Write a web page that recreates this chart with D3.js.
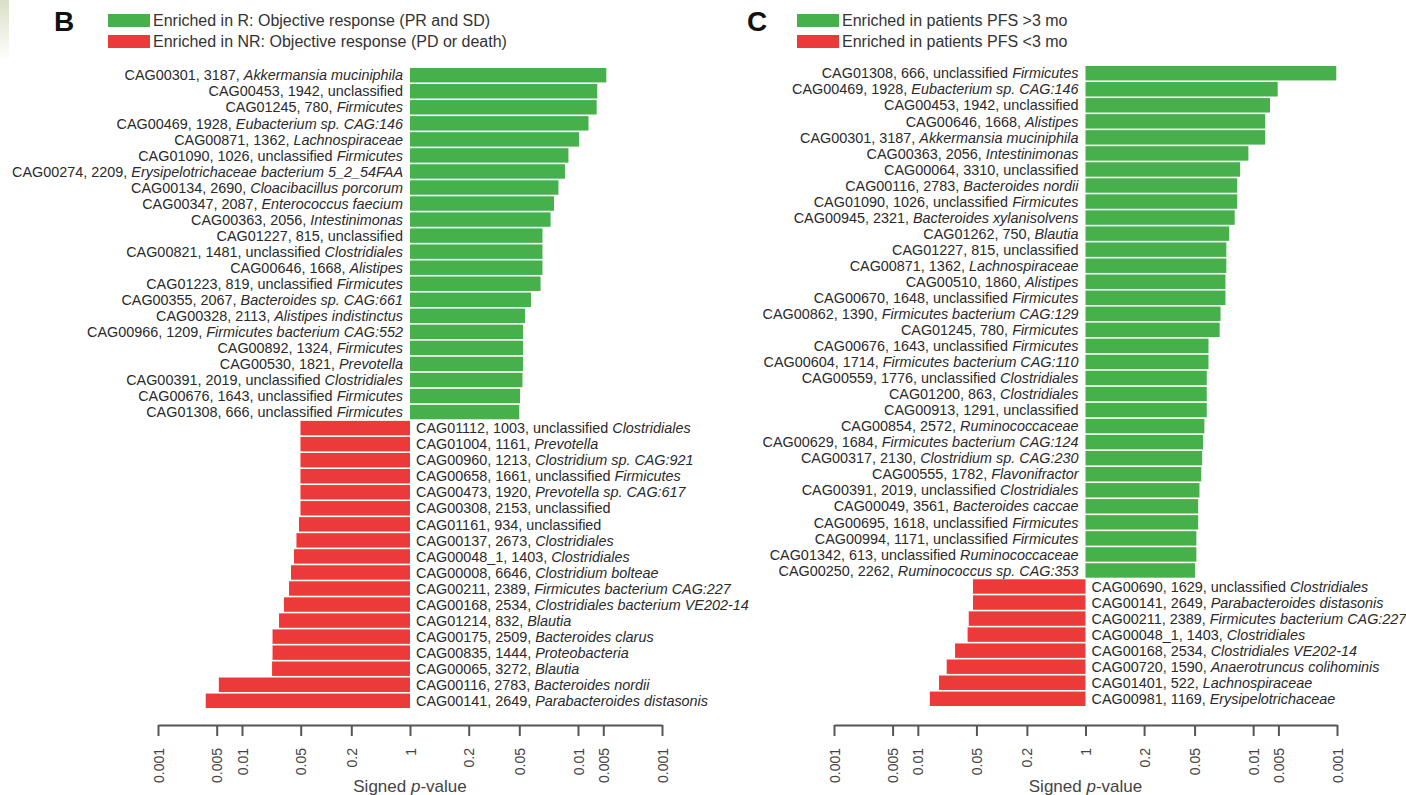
<!DOCTYPE html>
<html>
<head>
<meta charset="utf-8">
<script src="https://cdn.jsdelivr.net/npm/d3@7"></script>
<style>
  body { margin: 0; background: #fff; }
  svg { display: block; font-family: "Liberation Sans", Arial, Helvetica, sans-serif; }
</style>
</head>
<body>
<svg id="chart" width="1406" height="795"></svg>
<script>
// Panel B: objective response (R vs NR)
const bCag = ['CAG00301', 'CAG00453', 'CAG01245', 'CAG00469', 'CAG00871', 'CAG01090', 'CAG00274', 'CAG00134',
    'CAG00347', 'CAG00363', 'CAG01227', 'CAG00821', 'CAG00646', 'CAG01223', 'CAG00355', 'CAG00328', 'CAG00966',
    'CAG00892', 'CAG00530', 'CAG00391', 'CAG00676', 'CAG01308',
    'CAG01112', 'CAG01004', 'CAG00960', 'CAG00658', 'CAG00473', 'CAG00308', 'CAG01161', 'CAG00137', 'CAG00048_1',
    'CAG00008', 'CAG00211', 'CAG00168', 'CAG01214', 'CAG00175', 'CAG00835', 'CAG00065', 'CAG00116', 'CAG00141'];
const bGenes = [3187, 1942, 780, 1928, 1362, 1026, 2209, 2690, 2087, 2056, 815, 1481, 1668, 819, 2067, 2113, 1209,
    1324, 1821, 2019, 1643, 666,
    1003, 1161, 1213, 1661, 1920, 2153, 934, 2673, 1403, 6646, 2389, 2534, 832, 2509, 1444, 3272, 2783, 2649];
const bTaxa = ['Akkermansia muciniphila', 'unclassified', 'Firmicutes', 'Eubacterium sp. CAG:146', 'Lachnospiraceae',
    'unclassified Firmicutes', 'Erysipelotrichaceae bacterium 5_2_54FAA', 'Cloacibacillus porcorum',
    'Enterococcus faecium', 'Intestinimonas', 'unclassified', 'unclassified Clostridiales', 'Alistipes',
    'unclassified Firmicutes', 'Bacteroides sp. CAG:661', 'Alistipes indistinctus', 'Firmicutes bacterium CAG:552',
    'Firmicutes', 'Prevotella', 'unclassified Clostridiales', 'unclassified Firmicutes', 'unclassified Firmicutes',
    'unclassified Clostridiales', 'Prevotella', 'Clostridium sp. CAG:921', 'unclassified Firmicutes',
    'Prevotella sp. CAG:617', 'unclassified', 'unclassified', 'Clostridiales', 'Clostridiales', 'Clostridium bolteae',
    'Firmicutes bacterium CAG:227', 'Clostridiales bacterium VE202-14', 'Blautia', 'Bacteroides clarus',
    'Proteobacteria', 'Blautia', 'Bacteroides nordii', 'Parabacteroides distasonis'];
// signed p-values: positive = enriched in R, negative = enriched in NR
const bPvals = [0.0046, 0.0059, 0.0060, 0.0075, 0.0097, 0.0130, 0.0143, 0.0171, 0.0193, 0.0212, 0.0265, 0.0265,
    0.0265, 0.0279, 0.0363, 0.0428, 0.0452, 0.0452, 0.0452, 0.0458, 0.0490, 0.0500,
    -0.0497, -0.0497, -0.0497, -0.0497, -0.0497, -0.0497, -0.0477, -0.0445, -0.0416, -0.0383, -0.0363, -0.0316,
    -0.0276, -0.0231, -0.0231, -0.0228, -0.0053, -0.0037];
const bLegend = ['Enriched in R: Objective response (PR and SD)', 'Enriched in NR: Objective response (PD or death)'];

// Panel C: progression-free survival
const cCag = ['CAG01308', 'CAG00469', 'CAG00453', 'CAG00646', 'CAG00301', 'CAG00363', 'CAG00064', 'CAG00116',
    'CAG01090', 'CAG00945', 'CAG01262', 'CAG01227', 'CAG00871', 'CAG00510', 'CAG00670', 'CAG00862', 'CAG01245',
    'CAG00676', 'CAG00604', 'CAG00559', 'CAG01200', 'CAG00913', 'CAG00854', 'CAG00629', 'CAG00317', 'CAG00555',
    'CAG00391', 'CAG00049', 'CAG00695', 'CAG00994', 'CAG01342', 'CAG00250',
    'CAG00690', 'CAG00141', 'CAG00211', 'CAG00048_1', 'CAG00168', 'CAG00720', 'CAG01401', 'CAG00981'];
const cGenes = [666, 1928, 1942, 1668, 3187, 2056, 3310, 2783, 1026, 2321, 750, 815, 1362, 1860, 1648, 1390, 780,
    1643, 1714, 1776, 863, 1291, 2572, 1684, 2130, 1782, 2019, 3561, 1618, 1171, 613, 2262,
    1629, 2649, 2389, 1403, 2534, 1590, 522, 1169];
const cTaxa = ['unclassified Firmicutes', 'Eubacterium sp. CAG:146', 'unclassified', 'Alistipes',
    'Akkermansia muciniphila', 'Intestinimonas', 'unclassified', 'Bacteroides nordii', 'unclassified Firmicutes',
    'Bacteroides xylanisolvens', 'Blautia', 'unclassified', 'Lachnospiraceae', 'Alistipes', 'unclassified Firmicutes',
    'Firmicutes bacterium CAG:129', 'Firmicutes', 'unclassified Firmicutes', 'Firmicutes bacterium CAG:110',
    'unclassified Clostridiales', 'Clostridiales', 'unclassified', 'Ruminococcaceae', 'Firmicutes bacterium CAG:124',
    'Clostridium sp. CAG:230', 'Flavonifractor', 'unclassified Clostridiales', 'Bacteroides caccae',
    'unclassified Firmicutes', 'unclassified Firmicutes', 'unclassified Ruminococcaceae', 'Ruminococcus sp. CAG:353',
    'unclassified Clostridiales', 'Parabacteroides distasonis', 'Firmicutes bacterium CAG:227', 'Clostridiales',
    'Clostridiales VE202-14', 'Anaerotruncus colihominis', 'Lachnospiraceae', 'Erysipelotrichaceae'];
const cPvals = [0.00102, 0.0051, 0.0063, 0.0072, 0.0072, 0.0114, 0.0143, 0.0155, 0.0155, 0.0166, 0.0193, 0.0209,
    0.0209, 0.0214, 0.0214, 0.0245, 0.0251, 0.0341, 0.0341, 0.0358, 0.0358, 0.0358, 0.0382, 0.0396, 0.0406,
    0.0416, 0.0437, 0.0453, 0.0453, 0.0476, 0.0476, 0.0493,
    -0.0455, -0.0455, -0.0405, -0.0392, -0.0278, -0.0221, -0.0179, -0.0139];
const cLegend = ['Enriched in patients PFS >3 mo', 'Enriched in patients PFS <3 mo'];

// axis ticks (signed p)
const tickP = [-0.001, -0.005, -0.01, -0.05, -0.2, 1, 0.2, 0.05, 0.01, 0.005, 0.001];

const GREEN = '#46b04b';
const RED = '#ec3a3a';
const signedLog = p => (p < 0 ? -1 : 1) * -Math.log10(Math.abs(p));

const svg = d3.select('#chart');

// faint strip on the left edge of the scan
const grad = svg.append('defs').append('linearGradient')
    .attr('id', 'strip').attr('x1', 0).attr('y1', 0).attr('x2', 0).attr('y2', 1);
grad.append('stop').attr('offset', '0%').attr('stop-color', '#d9e0c6');
grad.append('stop').attr('offset', '100%').attr('stop-color', '#ffffff');
svg.append('rect').attr('x', 0).attr('y', 0).attr('width', 9).attr('height', 60).attr('fill', 'url(#strip)');

const panels = [
    { letter: 'B', cag: bCag, genes: bGenes, taxa: bTaxa, pvals: bPvals, legend: bLegend,
      xRange: [158, 662], yTop: 68, letterX: 54, legendX: 108 },
    { letter: 'C', cag: cCag, genes: cGenes, taxa: cTaxa, pvals: cPvals, legend: cLegend,
      xRange: [834, 1337], yTop: 66, letterX: 747, legendX: 797 },
];

function addTaxon(text, taxon) {
    // "unclassified" stays upright, taxonomic names are italic
    if (taxon === 'unclassified') {
        text.append('tspan').text(taxon);
    } else if (taxon.startsWith('unclassified ')) {
        text.append('tspan').text('unclassified ');
        text.append('tspan').attr('font-style', 'italic').text(taxon.slice(13));
    } else {
        text.append('tspan').attr('font-style', 'italic').text(taxon);
    }
}

panels.forEach(p => {
    const g = svg.append('g');
    const n = p.pvals.length;

    const x = d3.scaleLinear().domain([-3, 3]).range(p.xRange);
    const y = d3.scaleBand().domain(d3.range(n)).range([p.yTop, p.yTop + n * 16]).paddingInner(0.1);
    const x0 = x(0);

    // panel letter
    g.append('text')
        .attr('x', p.letterX).attr('y', 31)
        .attr('font-family', '"Liberation Sans Narrow", "Arial Narrow", "Liberation Sans", sans-serif')
        .attr('font-weight', 'bold').attr('font-size', 28).attr('fill', '#111')
        .text(p.letter);

    // legend
    const legend = g.append('g').selectAll('g').data(p.legend).enter().append('g')
        .attr('transform', (d, i) => `translate(${p.legendX},${14 + i * 21})`);
    legend.append('rect').attr('width', 42).attr('height', 13)
        .attr('fill', (d, i) => (i === 0 ? GREEN : RED));
    legend.append('text').attr('x', 45).attr('y', 12)
        .attr('font-size', 16).attr('fill', '#333').text(d => d);

    // bars
    g.append('g').selectAll('rect').data(p.pvals).enter().append('rect')
        .attr('x', d => Math.min(x0, x(signedLog(d))))
        .attr('y', (d, i) => y(i))
        .attr('width', d => Math.abs(x(signedLog(d)) - x0))
        .attr('height', y.bandwidth())
        .attr('fill', d => (d > 0 ? GREEN : RED));

    // bar labels
    const labels = g.append('g').selectAll('text').data(p.pvals).enter().append('text')
        .attr('x', d => (d > 0 ? x0 - 7 : x0 + 6))
        .attr('y', (d, i) => y(i) + y.bandwidth() / 2)
        .attr('dy', '0.36em')
        .attr('text-anchor', d => (d > 0 ? 'end' : 'start'))
        .attr('font-size', 14.4)
        .attr('fill', '#2a2a2a');
    labels.each(function(d, i) {
        const t = d3.select(this);
        t.append('tspan').text(`${p.cag[i]}, ${p.genes[i]}, `);
        addTaxon(t, p.taxa[i]);
    });

    // axis
    const axis = d3.axisBottom(x)
        .tickValues(tickP.map(signedLog))
        .tickFormat((d, i) => String(Math.abs(tickP[i])))
        .tickSize(11)
        .tickSizeOuter(0);
    const ax = g.append('g').attr('transform', 'translate(0,725)').call(axis);
    ax.select('.domain').attr('stroke', '#555').attr('stroke-width', 2);
    ax.selectAll('.tick line').attr('stroke', '#555').attr('stroke-width', 2);
    ax.selectAll('.tick text')
        .attr('transform', 'rotate(-90)')
        .attr('text-anchor', 'end')
        .attr('x', -23).attr('y', 0).attr('dy', '0.36em')
        .attr('font-size', 14).attr('font-family', '"Liberation Sans", Arial, sans-serif')
        .attr('fill', '#444');

    const title = g.append('text')
        .attr('x', x0).attr('y', 792)
        .attr('text-anchor', 'middle').attr('font-size', 17).attr('fill', '#444');
    title.append('tspan').text('Signed ');
    title.append('tspan').attr('font-style', 'italic').text('p');
    title.append('tspan').text('-value');
});
</script>
</body>
</html>
